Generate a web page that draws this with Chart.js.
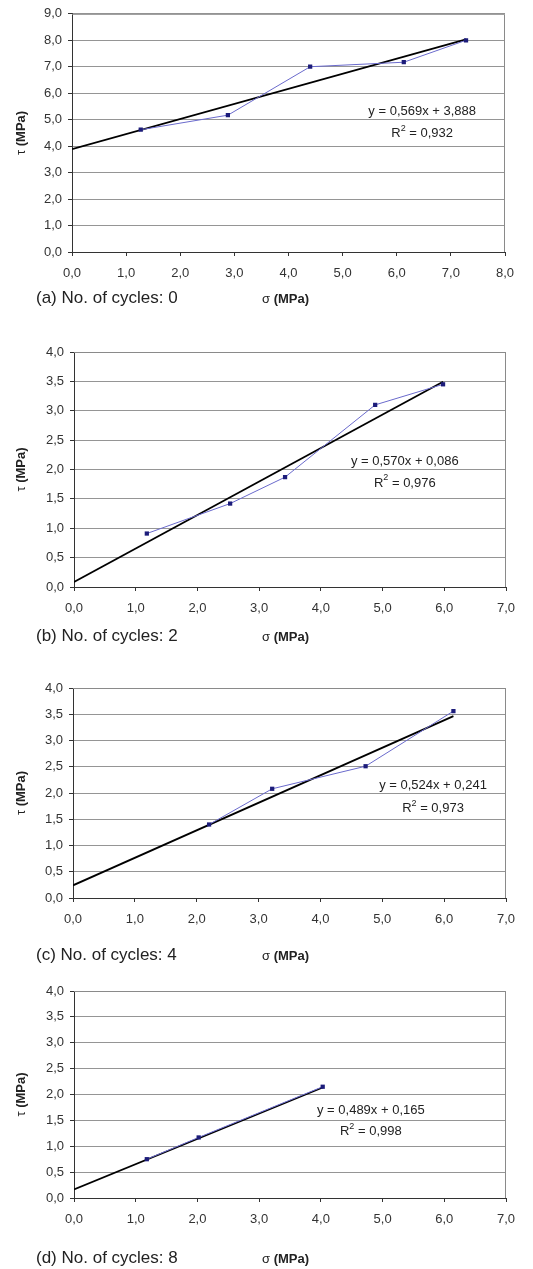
<!DOCTYPE html>
<html lang="en">
<head>
  <meta charset="UTF-8">
  <title>Shear strength vs normal stress</title>
  <script src="https://cdn.jsdelivr.net/npm/chart.js"></script>
  <style>
    body { margin: 0; background: #fff; }
    #page { position: relative; width: 533px; height: 1269px; }
    .box { position: absolute; left: 0; width: 533px; }
  </style>
</head>
<body>
<div id="page">
  <div class="box" style="top:0;height:312px"><canvas id="cA"></canvas></div>
  <div class="box" style="top:312px;height:336px"><canvas id="cB"></canvas></div>
  <div class="box" style="top:648px;height:320px"><canvas id="cC"></canvas></div>
  <div class="box" style="top:968px;height:301px"><canvas id="cD"></canvas></div>
</div>
<script>
// measured points, sigma (MPa) / tau (MPa)
const sigmaA = [1.27, 2.88, 4.40, 6.13, 7.28];
const tauA   = [4.62, 5.17, 7.00, 7.17, 8.00];
const sigmaB = [1.18, 2.53, 3.42, 4.88, 5.98];
const tauB   = [0.91, 1.42, 1.87, 3.10, 3.45];
const sigmaC = [2.20, 3.22, 4.73, 6.15];
const tauC   = [1.40, 2.08, 2.51, 3.56];
const sigmaD = [1.18, 2.02, 4.03];
const tauD   = [0.75, 1.17, 2.15];

// linear trendlines as printed on the chart
const slopes     = [0.569, 0.570, 0.524, 0.489];
const intercepts = [3.888, 0.086, 0.241, 0.165];
const r2values   = [0.932, 0.976, 0.973, 0.998];

const captions = ["(a) No. of cycles: 0", "(b) No. of cycles: 2", "(c) No. of cycles: 4", "(d) No. of cycles: 8"];
const xMax  = [8, 7, 7, 7];
const yMax  = [9, 4, 4, 4];
const yStep = [1, 0.5, 0.5, 0.5];

const comma = (v, d) => v.toFixed(d).replace(".", ",");
const FAM = "'Liberation Sans', Arial, sans-serif";

// layout per panel (pixels inside each canvas)
const layouts = [
  { id: "cA", h: 312, left: 72, right: 28, top: 10, xh: 60, cap: 46, eq: [6.47, 5.30, 4.48] },
  { id: "cB", h: 336, left: 74, right: 27, top: 40, xh: 61, cap: 49, eq: [5.36, 2.13, 1.77] },
  { id: "cC", h: 320, left: 73, right: 27, top: 40, xh: 70, cap: 57, eq: [5.82, 2.15, 1.71] },
  { id: "cD", h: 301, left: 74, right: 27, top: 23, xh: 71, cap: 60, eq: [4.81, 1.70, 1.28] }
];

const extras = {
  id: "extras",
  afterDraw(chart, args, o) {
    const ctx = chart.ctx, a = chart.chartArea;
    const xs = chart.scales.x, ys = chart.scales.y;
    ctx.save();
    // frame top / right
    ctx.strokeStyle = "#8a8a8a";
    ctx.lineWidth = 1;
    ctx.beginPath();
    ctx.moveTo(a.left, a.top + 0.5);
    ctx.lineTo(a.right - 0.5, a.top + 0.5);
    ctx.lineTo(a.right - 0.5, a.bottom);
    ctx.stroke();

    ctx.fillStyle = "#222";
    ctx.textBaseline = "middle";
    // equation
    const reg = "13px " + FAM, sup = "9px " + FAM;
    ctx.font = reg;
    ctx.textAlign = "center";
    const cx = xs.getPixelForValue(o.eq[0]);
    ctx.fillText("y = " + comma(o.m, 3) + "x + " + comma(o.b, 3), cx, ys.getPixelForValue(o.eq[1]));
    const ry = ys.getPixelForValue(o.eq[2]);
    const rest = " = " + comma(o.r2, 3);
    ctx.textAlign = "left";
    const wR = ctx.measureText("R").width, wRest = ctx.measureText(rest).width;
    ctx.font = sup;
    const w2 = ctx.measureText("2").width;
    const sx = cx - (wR + w2 + wRest) / 2;
    ctx.font = reg;
    ctx.fillText("R", sx, ry);
    ctx.font = sup;
    ctx.fillText("2", sx + wR, ry - 5);
    ctx.font = reg;
    ctx.fillText(rest, sx + wR + w2, ry);

    // caption and x title
    const capY = a.bottom + o.cap;
    ctx.font = "17px " + FAM;
    ctx.fillText(o.caption, 36, capY);
    ctx.font = "13px " + FAM;
    ctx.fillText("σ ", 262, capY + 1);
    const ws = ctx.measureText("σ ").width;
    ctx.font = "bold 13px " + FAM;
    ctx.fillText("(MPa)", 262 + ws, capY + 1);

    // y title
    ctx.translate(21, (a.top + a.bottom) / 2);
    ctx.rotate(-Math.PI / 2);
    ctx.font = "13px " + FAM;
    const wt = ctx.measureText("τ ").width;
    ctx.font = "bold 13px " + FAM;
    const wm = ctx.measureText("(MPa)").width;
    const st = -(wt + wm) / 2;
    ctx.font = "13px " + FAM;
    ctx.fillText("τ ", st, 0);
    ctx.font = "bold 13px " + FAM;
    ctx.fillText("(MPa)", st + wt, 0);
    ctx.restore();
  }
};

const sigmas = [sigmaA, sigmaB, sigmaC, sigmaD];
const taus = [tauA, tauB, tauC, tauD];

layouts.forEach((L, i) => {
  const pts = sigmas[i].map((s, k) => ({ x: s, y: taus[i][k] }));
  const lastX = sigmas[i][sigmas[i].length - 1];
  const trend = [0, lastX].map(x => ({ x: x, y: slopes[i] * x + intercepts[i] }));
  const canvas = document.getElementById(L.id);
  canvas.parentNode.style.height = L.h + "px";
  new Chart(canvas, {
    type: "scatter",
    data: {
      datasets: [
        {
          label: "measured",
          data: pts,
          showLine: true,
          borderColor: "#6a6acc",
          borderWidth: 1,
          pointStyle: "rect",
          pointRadius: 3,
          pointBackgroundColor: "#1c1c7a",
          pointBorderColor: "#1c1c7a",
          pointBorderWidth: 0,
          order: 1
        },
        {
          label: "trend",
          data: trend,
          showLine: true,
          borderColor: "#000",
          borderWidth: 1.8,
          pointRadius: 0,
          order: 2
        }
      ]
    },
    options: {
      responsive: true,
      maintainAspectRatio: false,
      animation: false,
      layout: { padding: { left: 0, right: L.right, top: L.top, bottom: 0 } },
      plugins: {
        legend: { display: false },
        tooltip: { enabled: false },
        extras: {
          caption: captions[i], m: slopes[i], b: intercepts[i], r2: r2values[i],
          eq: L.eq, cap: L.cap
        }
      },
      scales: {
        x: {
          type: "linear",
          min: 0, max: xMax[i],
          afterFit: s => { s.height = L.xh; },
          grid: { drawOnChartArea: false, drawTicks: true, tickLength: 4, color: "#333" },
          border: { color: "#333", width: 1 },
          ticks: {
            stepSize: 1, padding: 10, color: "#333", maxRotation: 0,
            font: { family: FAM, size: 13 },
            callback: v => comma(v, 1)
          }
        },
        y: {
          min: 0, max: yMax[i],
          afterFit: s => { s.width = L.left; },
          grid: { color: "#959595", lineWidth: 1, tickLength: 4, tickColor: "#333" },
          border: { color: "#333", width: 1 },
          ticks: {
            stepSize: yStep[i], padding: 6, color: "#333",
            font: { family: FAM, size: 13 },
            callback: v => comma(v, 1)
          }
        }
      }
    },
    plugins: [extras]
  });
});
</script>
</body>
</html>
